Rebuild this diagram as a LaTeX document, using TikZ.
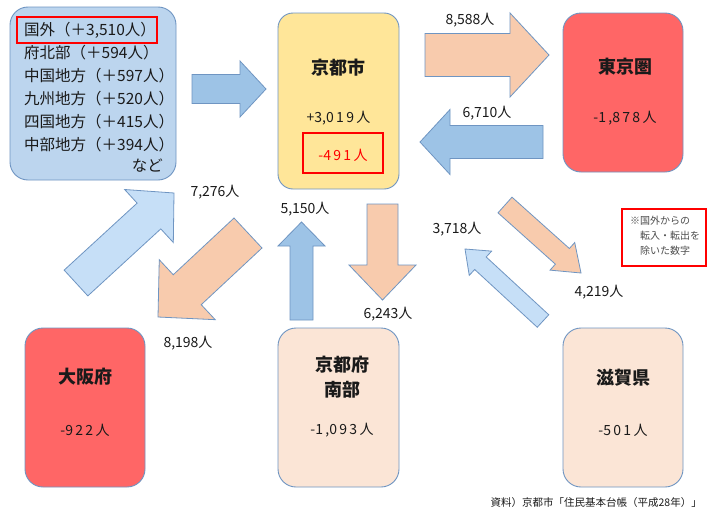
\documentclass[tikz,border=0pt]{standalone}
\usepackage{fontspec}
\setmainfont{Noto Sans CJK JP}
\usetikzlibrary{calc}
\definecolor{bmid}{HTML}{9DC3E6}
\definecolor{blight}{HTML}{C6DFF7}
\definecolor{peach}{HTML}{F8CBAD}
\definecolor{boxblue}{HTML}{BCD5EE}
\definecolor{boxyel}{HTML}{FFE699}
\definecolor{boxred}{HTML}{FF6666}
\definecolor{boxpink}{HTML}{FBE5D6}
\definecolor{edge}{HTML}{6F95C2}
\definecolor{txt}{HTML}{1A1A1A}
\newcommand\blockarrow[6]{%
  \coordinate (ba-h) at ($(#2)!#5!(#1)$);
  \filldraw[#6] ($(#1)!#3!90:(#2)$) -- ($(ba-h)!#3!90:(#2)$) -- ($(ba-h)!#4!90:(#2)$) -- (#2)
    -- ($(ba-h)!#4!-90:(#2)$) -- ($(ba-h)!#3!-90:(#2)$) -- ($(#1)!#3!-90:(#2)$) -- cycle;
}
\begin{document}
\begin{tikzpicture}[x=1pt,y=-1pt,
  box/.style={draw=edge, line width=0.9pt, rounded corners=18pt, inner sep=0pt},
  redrect/.style={draw=red, line width=2pt},
  arr/.style={draw=edge, line width=0.8pt, line join=miter},
  title/.style={font=\fontsize{18}{20}\selectfont\bfseries, text=txt},
  val/.style={font=\fontsize{14}{16}\selectfont, text=txt},
  lab/.style={font=\fontsize{14}{16}\selectfont, text=txt},
  li/.style={font=\fontsize{15.5}{17}\selectfont, text=txt, anchor=west, inner sep=0pt},
]
\useasboundingbox (0,0) rectangle (708,514);
\fill[white] (0,0) rectangle (708,514);

% boxes
\node[box, fill=boxblue, minimum width=166pt, minimum height=173pt] (out) at (93,93.5) {};
\node[box, fill=boxyel, rounded corners=15pt, minimum width=121pt, minimum height=176pt] (kyoto) at (338.5,101) {};
\node[box, fill=boxred, minimum width=120pt, minimum height=159pt] (tokyo) at (623,92.5) {};
\node[box, fill=boxred, minimum width=120pt, minimum height=159pt] (osaka) at (85,407.5) {};
\node[box, fill=boxpink, minimum width=121pt, minimum height=159pt] (south) at (338.5,407.5) {};
\node[box, fill=boxpink, minimum width=120pt, minimum height=159pt] (shiga) at (623,407.5) {};

% left box text
\node[li] (l1) at (24,30) {国外（＋3,510人）};
\node[li] (l2) at (24,53) {府北部（＋594人）};
\node[li] (l3) at (24,76) {中国地方（＋597人）};
\node[li] (l4) at (24,99) {九州地方（＋520人）};
\node[li] (l5) at (24,122) {四国地方（＋415人）};
\node[li] (l6) at (24,145) {中部地方（＋394人）};
\node[li, anchor=east] (l7) at (163,166) {など};
\draw[redrect] (17,17) rectangle (157,43);

% kyoto city
\node[title] (kt) at (338.5,68) {京都市};
\node[val] (kv) at (338.5,118) {+3,0\,1\,9\,人};
\draw[redrect] (303,133) rectangle (383,173);
\node[val, text=red] (kr) at (343,155) {-4\,9\,1\,人};

% tokyo
\node[title] (tt) at (625,67) {東京圏};
\node[val] (tv) at (625,118) {-1\,,8\,7\,8\,人};

% osaka
\node[title] (ot) at (85,377) {大阪府};
\node[val] (ov) at (85,430) {-9\,2\,2\,人};

% south
\node[title, align=center, font=\fontsize{18}{25}\selectfont\bfseries] (st) at (342,377) {京都府\\南部};
\node[val] (sv) at (342,430) {-1\,,0\,9\,3\,人};

% shiga
\node[title] (sht) at (623,378) {滋賀県};
\node[val] (shv) at (623,430) {-5\,0\,1\,人};

% arrows
\coordinate (a1t) at (192,89); \coordinate (a1h) at (266,89);
\blockarrow{a1t}{a1h}{14.5pt}{28pt}{26pt}{arr, fill=bmid}
\coordinate (a2t) at (425,55); \coordinate (a2h) at (549,55);
\blockarrow{a2t}{a2h}{21.5pt}{42pt}{39pt}{arr, fill=peach}
\coordinate (a3t) at (543,142); \coordinate (a3h) at (420,142);
\blockarrow{a3t}{a3h}{16.5pt}{32.5pt}{30pt}{arr, fill=bmid}
\coordinate (a4t) at (301.5,320); \coordinate (a4h) at (301.5,222);
\blockarrow{a4t}{a4h}{11.5pt}{23.5pt}{24pt}{arr, fill=bmid}
\coordinate (a5t) at (382.5,204); \coordinate (a5h) at (382.5,300);
\blockarrow{a5t}{a5h}{15.5pt}{33.5pt}{35pt}{arr, fill=peach}
\coordinate (a6t) at (76,283); \coordinate (a6h) at (174,193);
\blockarrow{a6t}{a6h}{17.5pt}{36pt}{34pt}{arr, fill=blight}
\coordinate (a7t) at (248,233); \coordinate (a7h) at (158,317);
\blockarrow{a7t}{a7h}{20.5pt}{41pt}{40pt}{arr, fill=peach}
\coordinate (a8t) at (505,205); \coordinate (a8h) at (581,273);
\blockarrow{a8t}{a8h}{10.5pt}{18.5pt}{25pt}{arr, fill=peach}
\coordinate (a9t) at (543,321); \coordinate (a9h) at (465,249);
\blockarrow{a9t}{a9h}{8.5pt}{16.5pt}{21pt}{arr, fill=blight}

% labels
\node[lab] (n1) at (470,20) {8,588人};
\node[lab] (n2) at (487,113) {6,710人};
\node[lab] (n3) at (215,192) {7,276人};
\node[lab] (n4) at (305,209) {5,150人};
\node[lab] (n5) at (388,314) {6,243人};
\node[lab] (n6) at (188,343) {8,198人};
\node[lab] (n7) at (457,229) {3,718人};
\node[lab] (n8) at (599,292) {4,219人};

% note
\draw[redrect] (622,209) rectangle (706,266);
\node[font=\fontsize{10}{15}\selectfont, text=black!70, align=left, anchor=north west, inner sep=0pt] (note) at (630,216) {※国外からの\\\hspace*{1em}転入・転出を\\\hspace*{1em}除いた数字};

% source
\node[font=\fontsize{10.5}{12}\selectfont, text=txt, anchor=east, inner sep=0pt] (src) at (702,503) {資料）京都市「住民基本台帳（平成28年）」};
\end{tikzpicture}
\end{document}
